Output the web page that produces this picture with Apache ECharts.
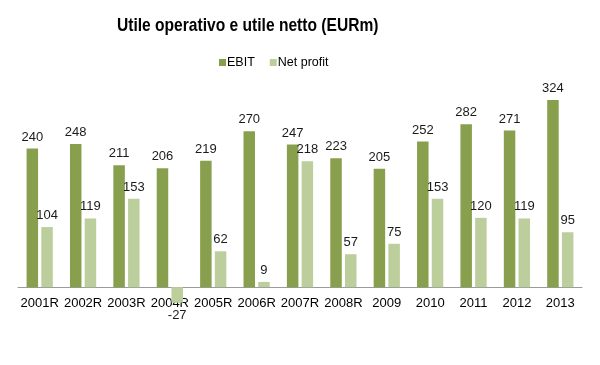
<!DOCTYPE html>
<html>
<head>
<meta charset="utf-8">
<script src="https://cdn.jsdelivr.net/npm/echarts@6/dist/echarts.min.js"></script>
<style>html,body{margin:0;padding:0;background:#fff}#c{width:600px;height:365px}</style>
</head>
<body>
<div id="c"></div>
<script>
const categories = ['2001R','2002R','2003R','2004R','2005R','2006R','2007R','2008R','2009','2010','2011','2012','2013'];
const ebit = [240,248,211,206,219,270,247,223,205,252,282,271,324];
const netProfit = [104,119,153,-27,62,9,218,57,75,153,120,119,95];
const titleText = 'Utile operativo e utile netto (EURm)';

const chart = echarts.init(document.getElementById('c'));
const sans = "'Liberation Sans', Arial, sans-serif";
const lbl = {show:true, position:'top', distance:5, color:'#1a1a1a', fontSize:13, fontFamily:sans};
chart.setOption({
  animation:false,
  graphic:[{type:'text', x:117, y:16, scaleX:0.82, silent:true,
    style:{text:titleText, font:"bold 19px 'Liberation Sans', Arial, sans-serif", fill:'#000', textVerticalAlign:'top'}}],
  legend:{data:['EBIT','Net profit'], left:214, top:51, itemWidth:7, itemHeight:7, itemGap:15,
    icon:'rect', textStyle:{fontFamily:sans, fontSize:12.5, color:'#000', padding:[0,0,0,-4]}},
  grid:{left:18, right:18, top:85, bottom:49},
  xAxis:{type:'category', data:categories, z:0,
    axisLine:{lineStyle:{color:'#9a9a9a', width:1}}, axisTick:{show:false},
    axisLabel:{color:'#000', fontSize:13, margin:-19, interval:0, fontFamily:sans}},
  yAxis:{type:'value', min:-50, max:350, show:false, splitLine:{show:false}},
  series:[
    {name:'EBIT', type:'bar', z:5, data:ebit, barWidth:11.5, barGap:'28%', itemStyle:{color:'#88a04e'}, label:lbl},
    {name:'Net profit', type:'bar', z:5, data:netProfit.map(v => v < 0 ? {value:v, label:{position:'bottom', distance:6}} : v),
      barWidth:11.5, itemStyle:{color:'#bbce9b'}, label:lbl}
  ]
});
</script>
</body>
</html>
